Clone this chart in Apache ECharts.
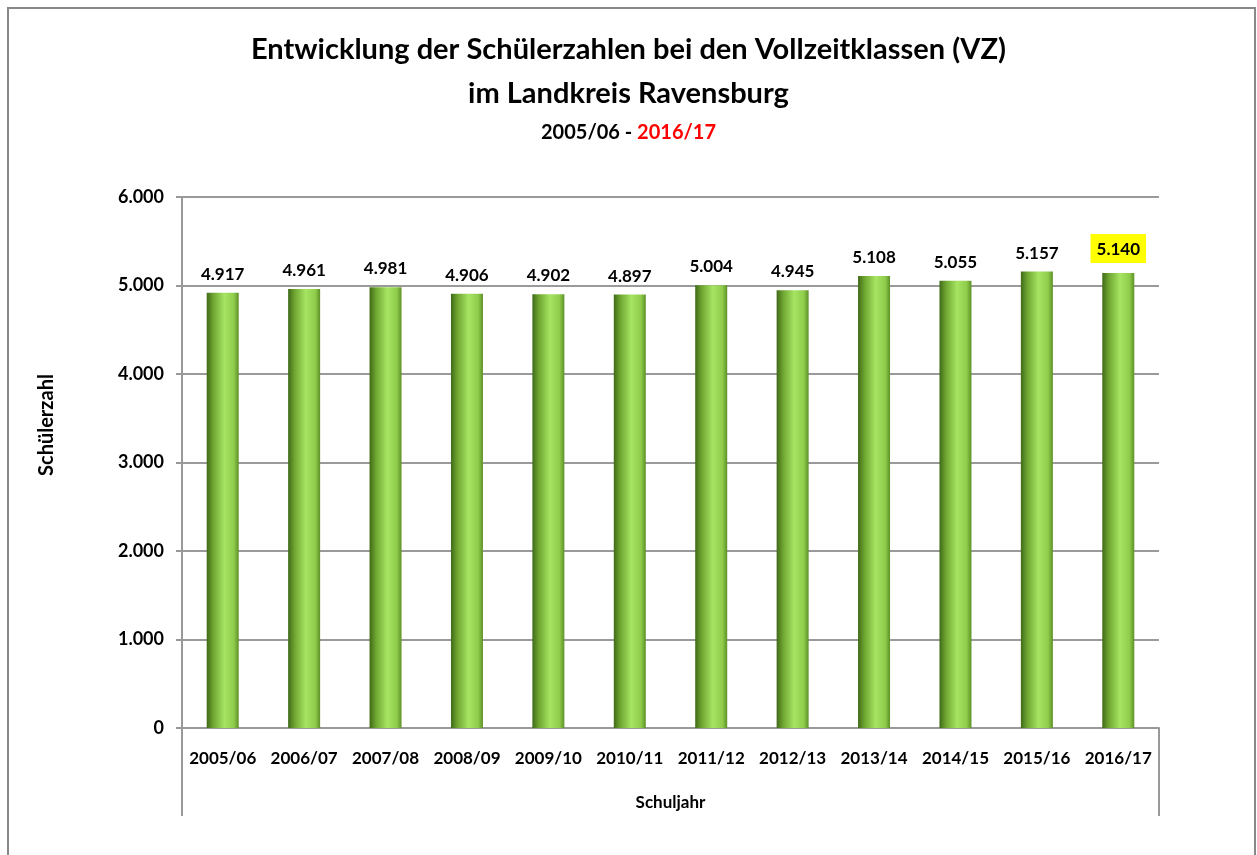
<!DOCTYPE html>
<html>
<head>
<meta charset="utf-8">
<script src="https://cdn.jsdelivr.net/npm/echarts@6/dist/echarts.min.js"></script>
<style>
	html, body { margin: 0; padding: 0; background: #fff; }
	#chart { width: 1257px; height: 855px; }
</style>
</head>
<body>
<div id="chart"></div>
<script>
// Schuljahre und Schülerzahlen (VZ)
var years = ['2005/06', '2006/07', '2007/08', '2008/09', '2009/10', '2010/11', '2011/12', '2012/13', '2013/14', '2014/15', '2015/16', '2016/17'];
var pupils = [4917, 4961, 4981, 4906, 4902, 4897, 5004, 4945, 5108, 5055, 5157, 5140];
var highlightYear = '2016/17';

var fmt = function(v) {
	return String(v).replace(/\B(?=(\d{3})+(?!\d))/g, '.');
};

var barColor = {
	type: 'linear', x: 0, y: 0, x2: 1, y2: 0,
	colorStops: [
		{ offset: 0, color: '#3f6a17' },
		{ offset: 0.2, color: '#6ea531' },
		{ offset: 0.55, color: '#a6e462' },
		{ offset: 0.85, color: '#8fcc4c' },
		{ offset: 1, color: '#5d9027' }
	]
};

var seriesData = pupils.map(function(v, i) {
	var item = { value: v };
	if (years[i] === highlightYear) {
		item.label = { backgroundColor: '#ffff00', padding: [7, 6, 5, 6] };
	}
	return item;
});

var chart = echarts.init(document.getElementById('chart'));
var option = {
	animation: false,
	textStyle: { fontFamily: 'Lato' },
	title: [
		{
			text: 'Entwicklung der Schülerzahlen bei den Vollzeitklassen (VZ)\nim Landkreis Ravensburg',
			left: 'center',
			top: 23,
			textStyle: { fontSize: 29, fontWeight: 'bold', color: '#000', lineHeight: 44, fontFamily: 'Lato' }
		},
		{
			text: '{a|2005/06 - }{b|2016/17}',
			left: 'center',
			top: 118,
			textStyle: {
				rich: {
					a: { fontSize: 20, color: '#000', fontFamily: 'Lato' },
					b: { fontSize: 20, color: '#ff0000', fontFamily: 'Lato' }
				}
			}
		}
	],
	grid: { left: 182, right: 98, top: 197, bottom: 127 },
	xAxis: {
		type: 'category',
		data: years,
		name: 'Schuljahr',
		nameLocation: 'middle',
		nameGap: 66,
		nameTextStyle: { fontSize: 17, fontWeight: 'bold', color: '#000' },
		axisLine: { lineStyle: { color: '#999', width: 2 } },
		axisTick: { interval: 0, length: 44, lineStyle: { color: '#999', width: 2 } },
		axisLabel: { interval: 0, fontSize: 17, fontWeight: 'bold', color: '#000', margin: 22 }
	},
	yAxis: {
		type: 'value',
		min: 0,
		max: 6000,
		interval: 1000,
		axisLine: { show: true, lineStyle: { color: '#999', width: 2 } },
		axisTick: { show: true, length: 6, lineStyle: { color: '#999', width: 2 } },
		axisLabel: { fontSize: 18, fontWeight: 'bold', color: '#000', margin: 18, formatter: fmt },
		splitLine: { lineStyle: { color: '#9a9a9a', width: 2 } }
	},
	series: [
		{
			name: 'Schülerzahl',
			type: 'bar',
			barWidth: 32,
			itemStyle: { color: barColor },
			label: {
				show: true,
				position: 'top',
				distance: 10,
				fontSize: 17,
				fontWeight: 'bold',
				color: '#000',
				formatter: function(p) { return fmt(p.value); }
			},
			data: seriesData
		}
	],
	graphic: [
		// Rahmen
		{ type: 'polyline', shape: { points: [[8, 855], [8, 8], [1255, 8], [1255, 855]] }, style: { fill: null, stroke: '#888', lineWidth: 2 } },
		// verlängerte Achsenlinien unten
		{ type: 'line', shape: { x1: 182, y1: 728, x2: 182, y2: 816 }, style: { stroke: '#999', lineWidth: 2 } },
		{ type: 'line', shape: { x1: 1159, y1: 728, x2: 1159, y2: 816 }, style: { stroke: '#999', lineWidth: 2 } },
		// Achsentitel y
		{ type: 'text', x: 47, y: 425, rotation: Math.PI / 2, style: { text: 'Schülerzahl', fontFamily: 'Lato', fontSize: 20, fontWeight: 'bold', fill: '#000', align: 'center', verticalAlign: 'middle' } }
	]
};
chart.setOption(option);
</script>
</body>
</html>
